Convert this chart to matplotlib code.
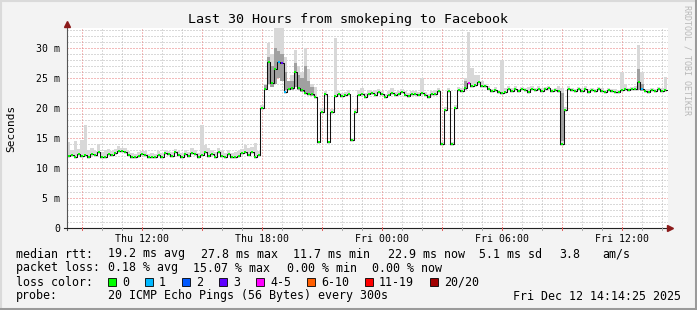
import numpy as np
import matplotlib
matplotlib.use("Agg")
import matplotlib.pyplot as plt
from matplotlib.lines import Line2D
from matplotlib.patches import Rectangle

# ===================== ##
# Data (10 min bins, start Thu 08:15)
# ===================== ##
median_ms = [
    12.0, 12.2, 11.9, 12.3, 12.0, 12.2, 11.9, 12.4, 12.1, 12.7,
    11.8, 11.9, 12.4, 12.1, 12.5, 12.8, 12.9, 12.6, 12.2, 11.8,
    11.8, 12.0, 12.4, 12.2, 11.8, 11.9, 11.8, 12.2, 11.9, 12.5,
    12.3, 12.0, 12.6, 12.2, 11.9, 12.4, 12.0, 12.5, 12.3, 11.8,
    12.2, 12.7, 12.0, 12.4, 11.9, 12.6, 12.0, 11.8, 12.3, 11.8,
    11.8, 12.0, 12.5, 12.7, 12.2, 12.6, 11.9, 12.1, 20.0, 23.2,
    27.7, 24.2, 26.5, 27.7, 27.5, 22.6, 23.2, 23.3, 26.0, 23.3,
    23.0, 22.5, 22.4, 22.3, 21.8, 14.3, 19.3, 22.3, 14.3, 19.3,
    22.0, 22.3, 22.0, 22.1, 22.4, 14.7, 19.3, 22.2, 22.4, 21.9,
    22.3, 22.5, 22.2, 22.6, 22.3, 21.9, 22.2, 22.5, 22.1, 22.4,
    22.6, 22.2, 22.0, 22.4, 22.3, 22.1, 22.5, 22.2, 21.9, 22.3,
    22.4, 22.9, 14.0, 19.7, 22.8, 14.0, 20.0, 23.0, 22.9, 23.3,
    24.2, 23.6, 23.9, 24.3, 23.7, 23.6, 23.2, 22.8, 23.0, 22.7,
    22.5, 22.6, 23.1, 22.9, 23.2, 22.8, 23.1, 23.0, 22.7, 23.2,
    23.0, 23.2, 22.9, 23.1, 23.3, 22.8, 23.0, 22.9, 14.0, 19.7,
    23.1, 23.0, 22.8, 23.1, 22.9, 23.2, 22.7, 23.0, 22.8, 23.1,
    22.9, 22.6, 23.0, 22.8, 22.7, 22.6, 23.0, 23.2, 23.0, 23.1,
    23.2, 24.3, 23.2, 22.8, 22.7, 23.0, 22.8, 23.1, 22.9, 23.0,
]

smoke_max_ms = [
    14.3, 13.0, 14.5, 13.2, 14.6, 17.2, 13.0, 13.3, 12.9, 14.0,
    12.6, 13.0, 13.2, 12.9, 13.1, 13.6, 13.4, 13.3, 12.9, 12.5,
    12.4, 12.6, 12.9, 12.8, 12.4, 12.5, 12.4, 12.8, 12.5, 13.0,
    12.9, 12.6, 13.2, 12.8, 12.5, 13.0, 12.6, 13.3, 13.0, 12.5,
    17.2, 13.8, 13.3, 13.0, 12.6, 13.4, 12.8, 12.5, 13.0, 12.5,
    12.6, 12.8, 13.2, 13.8, 13.4, 13.5, 14.1, 12.9, 20.5, 24.0,
    30.8, 29.0, 33.4, 33.4, 33.4, 28.5, 24.5, 25.5, 29.7, 27.0,
    26.0, 30.0, 26.5, 24.0, 23.5, 14.5, 20.0, 22.8, 14.5, 19.8,
    31.6, 22.8, 22.5, 22.6, 23.0, 15.0, 19.8, 23.0, 23.3, 22.5,
    23.0, 22.9, 23.0, 23.2, 22.8, 22.4, 22.8, 23.3, 22.6, 22.9,
    23.1, 22.8, 22.5, 22.9, 22.8, 22.6, 25.0, 22.7, 22.4, 22.8,
    23.0, 23.3, 14.3, 20.2, 23.3, 14.3, 20.5, 23.5, 23.4, 25.0,
    32.7, 26.7, 25.5, 25.5, 24.5, 24.0, 23.6, 23.2, 23.5, 23.0,
    28.0, 23.3, 23.6, 23.3, 23.6, 23.2, 23.5, 23.4, 23.5, 23.6,
    23.4, 23.6, 23.3, 23.5, 23.7, 23.2, 23.4, 23.6, 23.4, 20.2,
    23.6, 23.4, 23.2, 23.5, 23.3, 23.6, 23.1, 23.4, 23.2, 23.5,
    23.3, 23.0, 23.4, 23.2, 23.1, 23.0, 26.0, 24.0, 23.4, 23.5,
    23.6, 30.5, 26.0, 23.2, 23.1, 23.4, 23.2, 23.5, 23.3, 25.2,
]

# darker smoke (inner quantiles) where visible
dark_bins = [59, 60, 61, 62, 63, 64, 65, 66, 67, 68, 69, 70, 71, 72, 73, 119, 148, 171, 172]
dark_lo = [23.0, 24.0, 23.5, 24.0, 25.0, 24.5, 23.0, 23.0, 23.0, 23.5, 23.0, 22.7, 22.5, 22.3, 22.0, 23.0, 14.5, 23.0, 22.8]
dark_hi = [23.8, 28.5, 27.0, 30.0, 29.5, 29.0, 26.0, 24.5, 24.5, 27.5, 25.5, 25.0, 27.0, 24.5, 23.5, 24.5, 22.5, 26.5, 24.0]

# bins with packet loss (count of lost pings)
loss_bins = [63, 64, 65, 120, 172]
loss_counts = [1, 3, 1, 4, 1]

x_tick_hours = [3.75, 9.75, 15.75, 21.75, 27.75]
x_tick_labels = ["Thu 12:00", "Thu 18:00", "Fri 00:00", "Fri 06:00", "Fri 12:00"]
y_ticks = [0, 5, 10, 15, 20, 25, 30]
y_tick_labels = ["0", "5 m", "10 m", "15 m", "20 m", "25 m", "30 m"]

loss_names = ["0", "1", "2", "3", "4-5", "6-10", "11-19", "20/20"]
loss_colors = ["#00FF00", "#00B8FF", "#0059FF", "#5E00FF", "#FF00FF", "#FF5E00", "#FF0000", "#A10000"]


def loss_color(n):
    if n == 0:
        return loss_colors[0]
    if n <= 3:
        return loss_colors[n]
    if n <= 5:
        return loss_colors[4]
    if n <= 10:
        return loss_colors[5]
    if n <= 19:
        return loss_colors[6]
    return loss_colors[7]


# ===================== ##
# Figure
# ===================== ##
W, H = 697, 310
BG = "#F3F3F3"
MONO = "DejaVu Sans Mono"
fig = plt.figure(figsize=(W / 100, H / 100), dpi=100, facecolor=BG)


def fx(x):
    return x / W


def fy(y):
    return 1 - y / H


ax = fig.add_axes([fx(67), fy(228), 601 / W, 200 / H])
ax.set_facecolor("white")
for s in ax.spines.values():
    s.set_visible(False)
ax.set_xlim(0, 30.05)
ax.set_ylim(0, 33.33)

# grid (dotted, 1px)
dot = (0, (1, 2))
for v in range(1, 34):
    if v % 5:
        ax.axhline(v, color="#B4B4B4", lw=0.72, ls=dot, zorder=0)
for v in range(5, 31, 5):
    ax.axhline(v, color="#E87878", lw=0.72, ls=dot, zorder=0.5)
for k in range(30):
    h = 0.75 + k
    c = "#E87878" if k % 3 == 0 else "#B4B4B4"
    ax.axvline(h, color=c, lw=0.72, ls=dot, zorder=0.5 if k % 3 == 0 else 0)

# smoke
n = len(median_ms)
edges = np.arange(n + 1) / 6.0
med = np.array(median_ms)
lo = np.append(med - 0.35, med[-1] - 0.35)
hi = np.append(smoke_max_ms, smoke_max_ms[-1])
ax.fill_between(edges, lo, hi, step="post", color="#D8D8D8", lw=0, zorder=1)
for b, l, t in zip(dark_bins, dark_lo, dark_hi):
    ax.bar(edges[b], t - l, width=1 / 6, bottom=l, align="edge", color="#A0A0A0", lw=0, zorder=1.5)

# median line
ax.step(edges, np.append(med, med[-1]), where="post", color="#101010", lw=0.75, zorder=2)
colors = [loss_colors[0]] * n
for b, c in zip(loss_bins, loss_counts):
    colors[b] = loss_color(c)
ax.hlines(med, edges[:-1] + 0.04, edges[1:] - 0.03, colors=colors, lw=1.4, zorder=3)

# ticks
ax.set_xticks(x_tick_hours)
ax.set_xticklabels(x_tick_labels, fontfamily=MONO, fontsize=7.1)
ax.set_yticks(y_ticks)
ax.set_yticklabels(y_tick_labels, fontfamily=MONO, fontsize=7.1)
ax.tick_params(axis="x", length=0, pad=4.0)
ax.tick_params(axis="y", length=0, pad=5.0)

# axes with arrows
fig.add_artist(Line2D([fx(67), fx(67)], [fy(230), fy(24)], color="#555555", lw=0.8))
fig.add_artist(Line2D([fx(64), fx(669)], [fy(228), fy(228)], color="#222222", lw=0.8))
fig.add_artist(Line2D([fx(67)], [fy(24)], marker="^", ms=4.5, color="#8B1A1A", lw=0))
fig.add_artist(Line2D([fx(670)], [fy(228)], marker=">", ms=4.5, color="#8B1A1A", lw=0))
for k in range(30):
    xp = 67 + 20 * (0.75 + k)
    c = "#E06060" if k % 3 == 0 else "#AAAAAA"
    fig.add_artist(Line2D([fx(xp), fx(xp)], [fy(227), fy(230)], color=c, lw=0.7))

# texts
fig.text(fx(348.5), fy(19), "Last 30 Hours from smokeping to Facebook", ha="center", va="center",
         fontfamily=MONO, fontsize=9.6)
fig.text(fx(11), fy(128), "Seconds", rotation=90, ha="center", va="center", fontfamily=MONO, fontsize=8.0)
fig.text(fx(687.5), fy(5), "RRDTOOL / TOBI OETIKER", rotation=270, ha="center", va="top",
         fontfamily=MONO, fontsize=6.0, color="#B8B8B8")

fs = 8.35
rows = [
    (254, [(16, "median rtt:"), (107.6, "19.2 ms avg"), (201, "27.8 ms max"), (293, "11.7 ms min"),
           (388, "22.9 ms now"), (479, "5.1 ms sd"), (559, "3.8"), (602, "am/s")]),
    (268, [(16, "packet loss:"), (107.6, "0.18 % avg"), (193, "15.07 % max"), (287, "0.00 % min"),
           (372, "0.00 % now")]),
    (282, [(16, "loss color:")]),
    (296, [(16, "probe:"), (107.6, "20 ICMP Echo Pings (56 Bytes) every 300s")]),
]
for yp, items in rows:
    for xp, t in items:
        fig.text(fx(xp), fy(yp), t, ha="left", va="center", fontfamily=MONO, fontsize=fs)
fig.text(fx(681), fy(296), "Fri Dec 12 14:14:25 2025", ha="right", va="center", fontfamily=MONO, fontsize=fs)

box_x = [108, 145, 182, 219, 256, 307, 365, 430]
for bx, name, col in zip(box_x, loss_names, loss_colors):
    fig.add_artist(Rectangle((fx(bx), fy(286)), 8 / W, 8 / H, facecolor=col, edgecolor="black", lw=0.6))
    fig.text(fx(bx + 14), fy(282), name, ha="left", va="center", fontfamily=MONO, fontsize=fs)

# 3d border
fig.add_artist(Line2D([0, 1], [fy(0.5), fy(0.5)], color="#DADADA", lw=1.5))
fig.add_artist(Line2D([fx(0.5), fx(0.5)], [0, 1], color="#DADADA", lw=1.5))
fig.add_artist(Line2D([0, 1], [fy(308.5), fy(308.5)], color="#9A9A9A", lw=2.2))
fig.add_artist(Line2D([fx(695.5), fx(695.5)], [0, 1], color="#9A9A9A", lw=2.2))

fig.savefig("out.png", dpi=100, facecolor=BG)
